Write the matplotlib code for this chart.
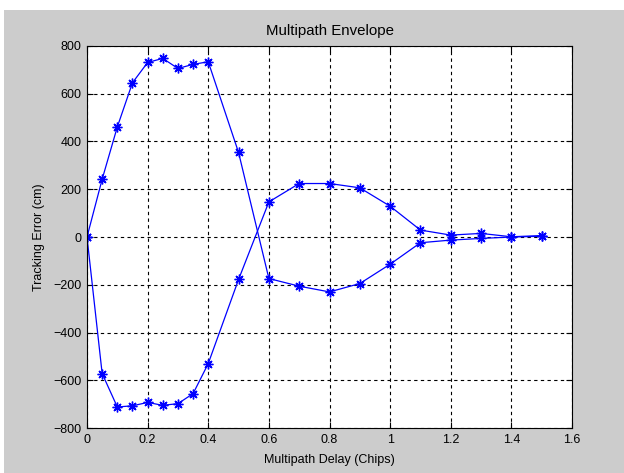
import matplotlib
matplotlib.use('Agg')
import matplotlib.pyplot as plt
from matplotlib.patches import Rectangle

# multipath delay in chips
delay = [0, 0.05, 0.1, 0.15, 0.2, 0.25, 0.3, 0.35, 0.4, 0.5,
         0.6, 0.7, 0.8, 0.9, 1.0, 1.1, 1.2, 1.3, 1.4, 1.5]
# tracking error (cm), in-phase and out-of-phase envelope
err_a = [0, 242, 461, 646, 731, 748, 706, 723, 734, 354,
         -174, -206, -230, -195, -114, -24, -13, -6, 0, 3]
err_b = [0, -572, -712, -707, -693, -705, -698, -656, -530, -178,
         147, 224, 224, 206, 129, 29, 8, 15, 1, 6]

xticks = [0, 0.2, 0.4, 0.6, 0.8, 1, 1.2, 1.4, 1.6]
xticklabels = ['0', '0.2', '0.4', '0.6', '0.8', '1', '1.2', '1.4', '1.6']
yticks = [-800, -600, -400, -200, 0, 200, 400, 600, 800]

plt.rcParams['font.family'] = ['Liberation Sans', 'DejaVu Sans']
plt.rcParams['font.size'] = 9

fig = plt.figure(figsize=(6.24, 4.73), dpi=100, facecolor='#cccccc')
# white strip along the top and left edges of the screenshot
fig.patches.append(Rectangle((0, 463 / 473), 1, 10 / 473, transform=fig.transFigure,
                             facecolor='white', edgecolor='none', zorder=-1))
fig.patches.append(Rectangle((0, 0), 4 / 624, 1, transform=fig.transFigure,
                             facecolor='white', edgecolor='none', zorder=-1))

ax = fig.add_axes([87 / 624, 1 - 428 / 473, (572 - 87) / 624, (428 - 46) / 473])
ax.set_facecolor('white')

# matlab style '*' marker: + and x on top of each other
for err in (err_a, err_b):
    ax.plot(delay, err, '-', color='#0000ff', lw=0.9, marker=(8, 2, 0), ms=7, mew=1.0)

ax.set_xlim(0, 1.6)
ax.set_ylim(-800, 800)
ax.set_xticks(xticks)
ax.set_xticklabels(xticklabels)
ax.set_yticks(yticks)
ax.grid(True, color='black', linestyle=(0, (3, 3)), linewidth=0.8)
ax.tick_params(direction='in', top=True, right=True, length=4, width=0.8, pad=4, colors='black')
for s in ax.spines.values():
    s.set_linewidth(0.8)

ax.set_title('Multipath Envelope', pad=8)
ax.set_xlabel('Multipath Delay (Chips)', labelpad=6)
ax.set_ylabel('Tracking Error (cm)', labelpad=6)

fig.savefig('out.png', dpi=100, facecolor=fig.get_facecolor())
